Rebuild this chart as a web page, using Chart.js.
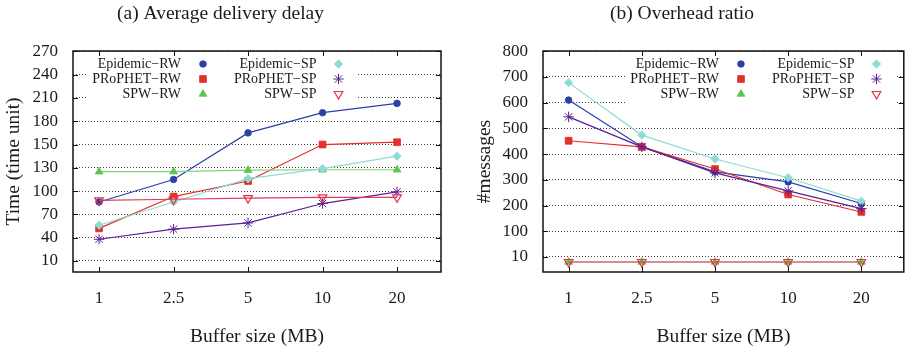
<!DOCTYPE html>
<html>
<head>
<meta charset="utf-8">
<script src="https://cdn.jsdelivr.net/npm/chart.js@4.4.1/dist/chart.umd.min.js"></script>
<style>
  body { margin: 0; background: #fff; }
  #wrap { position: relative; width: 910px; height: 350px; }
  canvas { position: absolute; top: 0; }
</style>
</head>
<body>
<div id="wrap">
  <canvas id="delayChart" width="455" height="350" style="left:0"></canvas>
  <canvas id="overheadChart" width="455" height="350" style="left:455px"></canvas>
</div>
<script>
// Data
const bufferSizes = ['1', '2.5', '5', '10', '20'];
const seriesNames = ['Epidemic−RW', 'PRoPHET−RW', 'SPW−RW', 'Epidemic−SP', 'PRoPHET−SP', 'SPW−SP'];

// (a) delay - values are read against the evenly spaced grid lines
const delayTickValues = [0, 30, 60, 90, 120, 150, 180, 210, 240, 270];
const delayTickLabels = ['10', '40', '70', '100', '130', '150', '180', '210', '240', '270'];
const delayEpidemicRW = [76, 105, 165, 191, 203];
const delayProphetRW = [42, 83, 103, 150, 153];
const delaySpwRW = [115, 115, 117, 117.5, 117.5];
const delayEpidemicSP = [46, 76, 106, 119, 135];
const delayProphetSP = [28, 41, 49, 74, 89];
const delaySpwSP = [78, 79.5, 81, 82, 82];

// (b) overhead
const ovhTickValues = [0, 100, 200, 300, 400, 500, 600, 700, 800];
const ovhTickLabels = ['10', '100', '200', '300', '400', '500', '600', '700', '800'];
const ovhEpidemicRW = [610, 429, 331, 292, 208];
const ovhProphetRW = [452, 428, 342, 243, 175];
const ovhSpwRW = [-19.5, -19.5, -19.5, -19.5, -19.5];
const ovhEpidemicSP = [678, 474, 381, 308, 217];
const ovhProphetSP = [545, 428, 327, 257, 188];
const ovhSpwSP = [-19.5, -19.5, -19.5, -19.5, -19.5];

// look of each series (gnuplot order)
const seriesStyles = [
    { line: '#2b3fa6', mark: '#2b3fa6', fill: '#2b3fa6', point: 'circle', radius: 3.3, rot: 0 },
    { line: '#e3302a', mark: '#e3302a', fill: '#e3302a', point: 'rect', radius: 4.8, rot: 0 },
    { line: '#80d478', mark: '#5cc650', fill: '#5cc650', point: 'triangle', radius: 4.5, rot: 0 },
    { line: '#8edbd5', mark: '#8edbd5', fill: '#8edbd5', point: 'rectRot', radius: 4.2, rot: 0 },
    { line: '#5b1f96', mark: '#5b1f96', fill: '#5b1f96', point: 'star', radius: 5.2, rot: 0 },
    { line: '#e23a5c', mark: '#e8304a', fill: 'rgba(0,0,0,0)', point: 'triangle', radius: 5, rot: 180 }
];

const FONT = 'Liberation Serif';
const INK = '#1a1a1a';

function markWidth(st) {
    if (st.point === 'star') return 1;
    return st.fill === 'rgba(0,0,0,0)' ? 1.2 : 0.8;
}

// legend drawn inside the plot, gnuplot style: text then marker
const keyPlugin = {
    id: 'key',
    beforeDatasetsDraw(chart, args, opts) {
        const ctx = chart.ctx;
        const top = chart.chartArea.top;
        const ax = opts.x;
        ctx.save();
        ctx.fillStyle = '#fff';
        ctx.fillRect(ax - 94, top + 2, 270, 52);
        ctx.font = '14px "' + FONT + '"';
        ctx.textAlign = 'right';
        ctx.textBaseline = 'middle';
        chart.data.datasets.forEach((ds, i) => {
            const col = Math.floor(i / 3), row = i % 3;
            const tx = ax + col * 135.5;
            const y = top + 13 + row * 15;
            ctx.fillStyle = INK;
            ctx.fillText(ds.label, tx, y);
            const st = seriesStyles[i];
            ctx.fillStyle = st.fill;
            ctx.strokeStyle = st.mark;
            ctx.lineWidth = markWidth(st);
            Chart.helpers.drawPoint(ctx, {
                pointStyle: st.point, radius: st.radius, rotation: st.rot, borderWidth: ctx.lineWidth
            }, tx + 22, y);
        });
        ctx.restore();
    }
};

// black border with small inward tick marks
const framePlugin = {
    id: 'frame',
    afterDatasetsDraw(chart) {
        const { ctx, chartArea: a, scales } = chart;
        ctx.save();
        ctx.strokeStyle = '#111';
        ctx.lineWidth = 1;
        ctx.beginPath();
        scales.x.ticks.forEach(t => {
            const px = Math.round(scales.x.getPixelForValue(t.value)) + 0.5;
            ctx.moveTo(px, a.bottom); ctx.lineTo(px, a.bottom - 5);
            ctx.moveTo(px, a.top); ctx.lineTo(px, a.top + 5);
        });
        scales.y.ticks.forEach(t => {
            const py = Math.round(scales.y.getPixelForValue(t.value)) + 0.5;
            ctx.moveTo(a.left, py); ctx.lineTo(a.left + 5, py);
            ctx.moveTo(a.right, py); ctx.lineTo(a.right - 5, py);
        });
        ctx.stroke();
        ctx.lineWidth = 1.5;
        ctx.strokeRect(a.left, a.top, a.right - a.left, a.bottom - a.top);
        ctx.restore();
    }
};

function makeChart(id, p) {
    const datasets = p.series.map((vals, i) => {
        const st = seriesStyles[i];
        return {
            label: seriesNames[i],
            data: vals.map((v, k) => ({ x: k, y: v })),
            borderColor: st.line,
            borderWidth: 1.2,
            pointStyle: st.point,
            pointRadius: st.radius,
            pointRotation: st.rot,
            pointBackgroundColor: st.fill,
            pointBorderColor: st.mark,
            pointBorderWidth: markWidth(st),
            fill: false,
            tension: 0,
            order: p.series.length - i
        };
    });
    return new Chart(document.getElementById(id), {
        type: 'line',
        data: { datasets },
        options: {
            responsive: false,
            animation: false,
            devicePixelRatio: 1,
            layout: { padding: { left: 0, right: p.padRight, top: 0, bottom: 0 } },
            plugins: {
                legend: { display: false },
                tooltip: { enabled: false },
                title: {
                    display: true, text: p.title, color: INK,
                    font: { family: FONT, size: 19.5, weight: 'normal' },
                    padding: { top: 2.5, bottom: 25.1 }
                },
                key: { x: p.keyX }
            },
            scales: {
                x: {
                    type: 'linear', min: p.xMin, max: p.xMax,
                    afterBuildTicks: s => { s.ticks = bufferSizes.map((b, i) => ({ value: i })); },
                    afterFit: s => { s.height = 78; },
                    grid: { display: false, drawTicks: false },
                    border: { display: false },
                    ticks: {
                        callback: (v, i) => bufferSizes[i],
                        color: INK, font: { family: FONT, size: 17 },
                        padding: 16, maxRotation: 0, autoSkip: false
                    },
                    title: {
                        display: true, text: 'Buffer size (MB)', color: INK,
                        font: { family: FONT, size: 19.5 }, padding: { top: 0, bottom: 1 }
                    }
                },
                y: {
                    type: 'linear', min: p.yMin, max: p.yMax,
                    afterBuildTicks: s => { s.ticks = p.tickValues.map(v => ({ value: v })); },
                    afterFit: s => { s.width = p.axisWidth; },
                    grid: { color: '#444', lineWidth: 1, drawTicks: false },
                    border: { display: false, dash: [1, 2] },
                    ticks: {
                        callback: (v, i) => p.tickLabels[i],
                        color: INK, font: { family: FONT, size: 17 }, padding: 15
                    },
                    title: {
                        display: true, text: p.yTitle, color: INK,
                        font: { family: FONT, size: 19.5 }, padding: { top: p.yTitlePad, bottom: 0 }
                    }
                }
            }
        },
        plugins: [keyPlugin, framePlugin]
    });
}

makeChart('delayChart', {
    title: '(a) Average delivery delay',
    yTitle: 'Time (time unit)',
    series: [delayEpidemicRW, delayProphetRW, delaySpwRW, delayEpidemicSP, delayProphetSP, delaySpwSP],
    tickValues: delayTickValues, tickLabels: delayTickLabels,
    yMin: -14.2, yMax: 270.5, xMin: -0.35, xMax: 4.59,
    axisWidth: 73, padRight: 14, yTitlePad: 2, keyX: 181
});

makeChart('overheadChart', {
    title: '(b) Overhead ratio',
    yTitle: '#messages',
    series: [ovhEpidemicRW, ovhProphetRW, ovhSpwRW, ovhEpidemicSP, ovhProphetSP, ovhSpwSP],
    tickValues: ovhTickValues, tickLabels: ovhTickLabels,
    yMin: -58.4, yMax: 801, xMin: -0.35, xMax: 4.58,
    axisWidth: 88, padRight: 1, yTitlePad: 18.6, keyX: 264
});
</script>
</body>
</html>
